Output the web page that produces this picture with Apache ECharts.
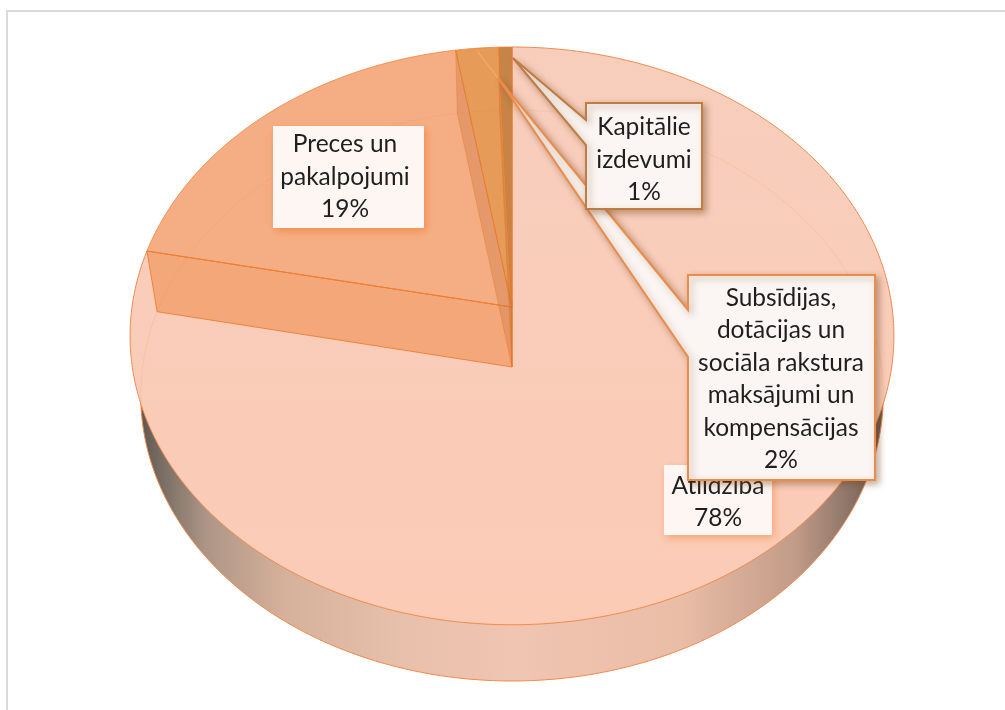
<!DOCTYPE html>
<html>
<head>
<meta charset="utf-8">
<title>Izdevumi</title>
<style>
html, body { margin: 0; padding: 0; background: #fff; }
#main { width: 1005px; height: 710px; }
</style>
<script src="https://cdn.jsdelivr.net/npm/echarts@6/dist/echarts.min.js"></script>
</head>
<body>
<div id="main"></div>
<script>
// values, the labels show them rounded
var categories = ['Atlīdzība', 'Preces un\npakalpojumi', 'Subsīdijas,\ndotācijas un\nsociāla rakstura\nmaksājumi un\nkompensācijas', 'Kapitālie\nizdevumi'];
var shares = [78.2, 19.2, 2.0, 0.6];

// the flat pie is drawn in perspective, the library has no such pie
var APEX_X = 512, APEX_Y = 307, DEPTH = 60;
var RX = 380, RY = 286, PERSP = 0.1, LOW_SCALE_X = 0.972, LOW_SCALE_Y = 0.988;

var topColors = [
    {type: 'linear', x: 0, y: 47, x2: 0, y2: 625, global: true, colorStops: [{offset: 0, color: '#F7CEBC'}, {offset: 1, color: '#FBCBB6'}]},
    '#F5AE84', '#E69B58', '#C58448'
];
var wallColors = [
    null,
    ['rgba(237,125,49,0.46)', 'rgba(205,125,80,0.28)'],
    ['rgba(200,110,40,0.14)', 'rgba(200,110,40,0.14)'],
    ['rgba(140,80,30,0.14)', 'rgba(140,80,30,0.14)']
];

// box, callout tip and text centre for each label
var labelLayout = [
    {box: [664, 465, 108, 70], cx: 718, cy: 502, glow: 'rgba(240,130,60,0.55)'},
    {box: [273, 126, 151, 102], cx: 345, cy: 177, glow: 'rgba(240,130,60,0.8)'},
    {box: [688, 275, 187, 205], cx: 781, cy: 379, tip: [498, 78], lead: [478, 52], base: [310, 357], border: '#ED8B49'},
    {box: [586, 103, 116, 106], cx: 644, cy: 160, tip: [513, 58], base: [120, 145], border: '#C07C42'}
];

function project(angle, r, low) {
    var u = r * Math.sin(angle), v = -r * Math.cos(angle);
    var s = 1 / (1 - PERSP * v);
    return [
        APEX_X + RX * u * s * (low ? LOW_SCALE_X : 1),
        APEX_Y + (low ? DEPTH : 0) + RY * v * s * (low ? LOW_SCALE_Y : 1)
    ];
}

function arcPoints(a0, a1, low) {
    var pts = [];
    var n = Math.max(2, Math.ceil((a1 - a0) / 0.01));
    for (var i = 0; i <= n; i++) {
        pts.push(project(a0 + (a1 - a0) * i / n, 1, low));
    }
    return pts;
}

function sliceAngles(idx) {
    var total = 0, before = 0;
    for (var i = 0; i < shares.length; i++) {
        total += shares[i];
        if (i < idx) before += shares[i];
    }
    var a0 = before / total * Math.PI * 2;
    return [a0, a0 + shares[idx] / total * Math.PI * 2];
}

function polygon(points, style) {
    return {type: 'polygon', shape: {points: points}, style: style};
}

// disc underneath, shows as the rim in front
function renderBase(params) {
    if (params.dataIndex > 0) return null;
    return {type: 'group', children: [polygon(arcPoints(0, Math.PI * 2, true), {
        fill: {
            type: 'linear', x: 130, y: 0, x2: 894, y2: 0, global: true,
            colorStops: [
                {offset: 0, color: '#4e4843'}, {offset: 0.03, color: '#6f655d'},
                {offset: 0.1, color: '#ad9686'}, {offset: 0.2, color: '#d5b09a'},
                {offset: 0.35, color: '#e7c0ab'}, {offset: 0.5, color: '#f0c5b1'},
                {offset: 0.72, color: '#eabda7'}, {offset: 0.87, color: '#c29c88'},
                {offset: 0.95, color: '#857064'}, {offset: 1, color: '#4e4843'}
            ]
        },
        stroke: '#F08A4B', lineWidth: 1
    })]};
}

function renderTop(params, api) {
    var i = params.dataIndex;
    var ang = sliceAngles(i);
    var pts = arcPoints(ang[0], ang[1], false);
    pts.push(project(0, 0, false));
    return polygon(pts, {fill: topColors[i], stroke: i == 0 ? '#F08A4B' : 'rgba(237,125,49,0.75)', lineWidth: 1});
}

// the two cut faces of the slices, see-through
function renderWalls(params) {
    var i = params.dataIndex;
    if (i == 0) return null;
    var ang = sliceAngles(i);
    var apexTop = project(0, 0, false), apexLow = project(0, 0, true);
    var children = [];
    for (var k = 0; k < 2; k++) {
        children.push(polygon([project(ang[k], 1, false), apexTop, apexLow, project(ang[k], 1, true)], {
            fill: wallColors[i][k], stroke: 'rgba(237,125,49,' + (i == 1 && k == 0 ? 0.9 : 0.25) + ')', lineWidth: 1
        }));
    }
    return {type: 'group', children: children};
}

// back edge of the lower disc seen through the top
function renderGhost(params) {
    if (params.dataIndex > 0) return null;
    return {type: 'polyline', shape: {points: arcPoints(-Math.PI * 0.56, Math.PI * 0.56, true)},
        style: {fill: 'none', stroke: 'rgba(237,125,49,0.13)', lineWidth: 1}};
}

function renderLabel(params) {
    var i = params.dataIndex;
    var l = labelLayout[i];
    var b = l.box;
    var children = [];
    if (l.lead) {
        children.push({type: 'line', shape: {x1: l.lead[0], y1: l.lead[1], x2: l.tip[0], y2: l.tip[1]},
            style: {stroke: 'rgba(245,170,110,0.8)', lineWidth: 1.5}});
    }
    if (l.tip) {
        // callout body with the pointer going to the slice
        children.push(polygon([
            [b[0], b[1]], [b[0] + b[2], b[1]], [b[0] + b[2], b[1] + b[3]], [b[0], b[1] + b[3]],
            [b[0], l.base[1]], l.tip, [b[0], l.base[0]]
        ], {
            fill: '#FBF6F3', stroke: l.border, lineWidth: 2,
            shadowBlur: 7, shadowColor: 'rgba(120,70,30,0.45)', shadowOffsetX: 3, shadowOffsetY: 3
        }));
    } else {
        children.push({type: 'rect', shape: {x: b[0], y: b[1], width: b[2], height: b[3]}, style: {
            fill: '#FDF6F2', shadowBlur: 8, shadowColor: l.glow, shadowOffsetX: 2, shadowOffsetY: 3
        }});
    }
    children.push({type: 'text', style: {
        x: l.cx, y: l.cy, align: 'center', verticalAlign: 'middle',
        text: categories[i] + '\n' + Math.round(shares[i]) + '%',
        font: '24.5px Lato', lineHeight: 32.5, fill: '#1f1f1f'
    }});
    return {type: 'group', children: children};
}

var myChart = echarts.init(document.getElementById('main'), null, {renderer: 'canvas'});
function customSeries(fn, z) {
    return {type: 'custom', coordinateSystem: 'none', renderItem: fn, data: shares, z: z, silent: true, animation: false, clip: false};
}
var option = {
    backgroundColor: '#fff',
    animation: false,
    graphic: [
        {type: 'line', shape: {x1: 6, y1: 11, x2: 1005, y2: 11}, style: {stroke: '#DADADA', lineWidth: 2}},
        {type: 'line', shape: {x1: 7, y1: 10, x2: 7, y2: 710}, style: {stroke: '#DADADA', lineWidth: 2}}
    ],
    series: [
        customSeries(renderBase, 1),
        customSeries(renderTop, 2),
        customSeries(renderWalls, 3),
        customSeries(renderGhost, 4),
        customSeries(renderLabel, 5)
    ]
};
myChart.setOption(option);
</script>
</body>
</html>
